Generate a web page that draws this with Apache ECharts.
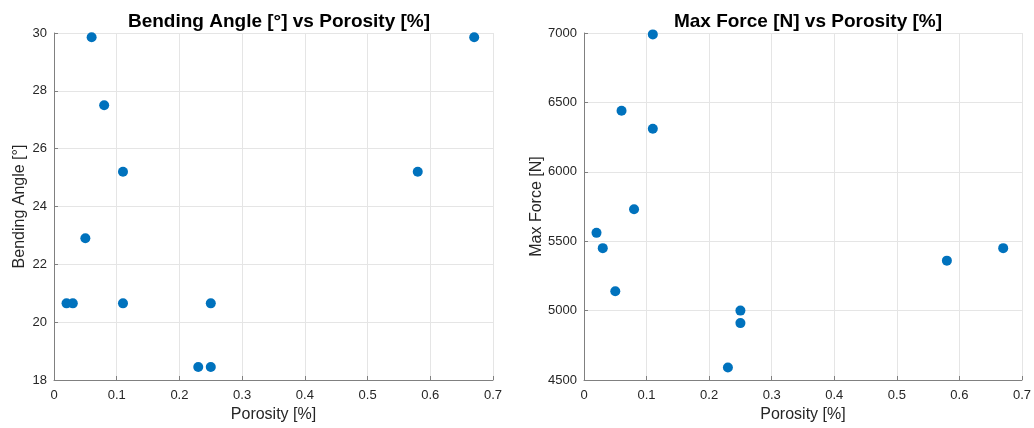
<!DOCTYPE html>
<html>
<head>
<meta charset="utf-8">
<script src="https://cdn.jsdelivr.net/npm/echarts@6/dist/echarts.min.js"></script>
<style>html,body{margin:0;padding:0;background:#fff;}#c{width:1034px;height:428px;}</style>
</head>
<body>
<div id="c"></div>
<script>
// Data
var porosity = [0.02, 0.03, 0.05, 0.06, 0.08, 0.11, 0.11, 0.23, 0.25, 0.25, 0.58, 0.67];
var bendingAngle = [20.65, 20.65, 22.9, 29.85, 27.5, 25.2, 20.65, 18.45, 18.45, 20.65, 25.2, 29.85];
var maxForce = [5560, 5450, 5140, 6440, 5730, 6990, 6310, 4590, 5000, 4910, 5360, 5450];
var titles = ['Bending Angle [°] vs Porosity [%]', 'Max Force [N] vs Porosity [%]'];
var xName = 'Porosity [%]';
var yNames = ['Bending Angle [°]', 'Max Force [N]'];

function pairs(xs, ys) { return xs.map(function (x, i) { return [x, ys[i]]; }); }

var FONT = 'Liberation Sans, Arial, Helvetica, sans-serif';
var axisLine = { show: true, lineStyle: { color: '#808080', width: 1 } };
var axisTick = { show: true, inside: true, length: 4, lineStyle: { color: '#808080' } };
var splitLine = { show: true, lineStyle: { color: '#e5e5e5', width: 1 } };
var axisLabel = { color: '#262626', fontSize: 13, fontFamily: FONT };
var nameStyle = { color: '#262626', fontSize: 16, fontFamily: FONT };

function xAxis(gi) {
  return {
    type: 'value', gridIndex: gi, min: 0, max: 0.7, interval: 0.1,
    name: xName, nameLocation: 'middle', nameGap: 26, nameTextStyle: nameStyle,
    axisLine: axisLine, axisTick: axisTick, splitLine: splitLine,
    axisLabel: Object.assign({ margin: 9, formatter: function (v) { return v === 0 ? '0' : String(+v.toFixed(1)); } }, axisLabel)
  };
}
function yAxis(gi, min, max, interval, name, gap) {
  return {
    type: 'value', gridIndex: gi, min: min, max: max, interval: interval,
    name: name, nameLocation: 'middle', nameGap: gap, nameTextStyle: nameStyle,
    axisLine: axisLine, axisTick: axisTick, splitLine: splitLine,
    axisLabel: Object.assign({ margin: 7, formatter: function (v) { return String(v); } }, axisLabel)
  };
}

var chart = echarts.init(document.getElementById('c'), null, { renderer: 'canvas' });
chart.setOption({
  backgroundColor: '#ffffff',
  animation: false,
  title: [
    { text: titles[0], left: 274, top: 7, textAlign: 'center',
      textStyle: { fontSize: 19, fontWeight: 'bold', color: '#000', fontFamily: FONT } },
    { text: titles[1], left: 803, top: 7, textAlign: 'center',
      textStyle: { fontSize: 19, fontWeight: 'bold', color: '#000', fontFamily: FONT } }
  ],
  grid: [
    { left: 54, right: 541, top: 33, bottom: 48 },
    { left: 584, right: 11, top: 33, bottom: 48 }
  ],
  xAxis: [xAxis(0), xAxis(1)],
  yAxis: [
    yAxis(0, 18, 30, 2, yNames[0], 26),
    yAxis(1, 4500, 7000, 500, yNames[1], 37)
  ],
  series: [
    { type: 'scatter', xAxisIndex: 0, yAxisIndex: 0, data: pairs(porosity, bendingAngle),
      symbol: 'circle', symbolSize: 10, itemStyle: { color: '#0072BD', opacity: 1 } },
    { type: 'scatter', xAxisIndex: 1, yAxisIndex: 1, data: pairs(porosity, maxForce),
      symbol: 'circle', symbolSize: 10, itemStyle: { color: '#0072BD', opacity: 1 } }
  ]
});
</script>
</body>
</html>
